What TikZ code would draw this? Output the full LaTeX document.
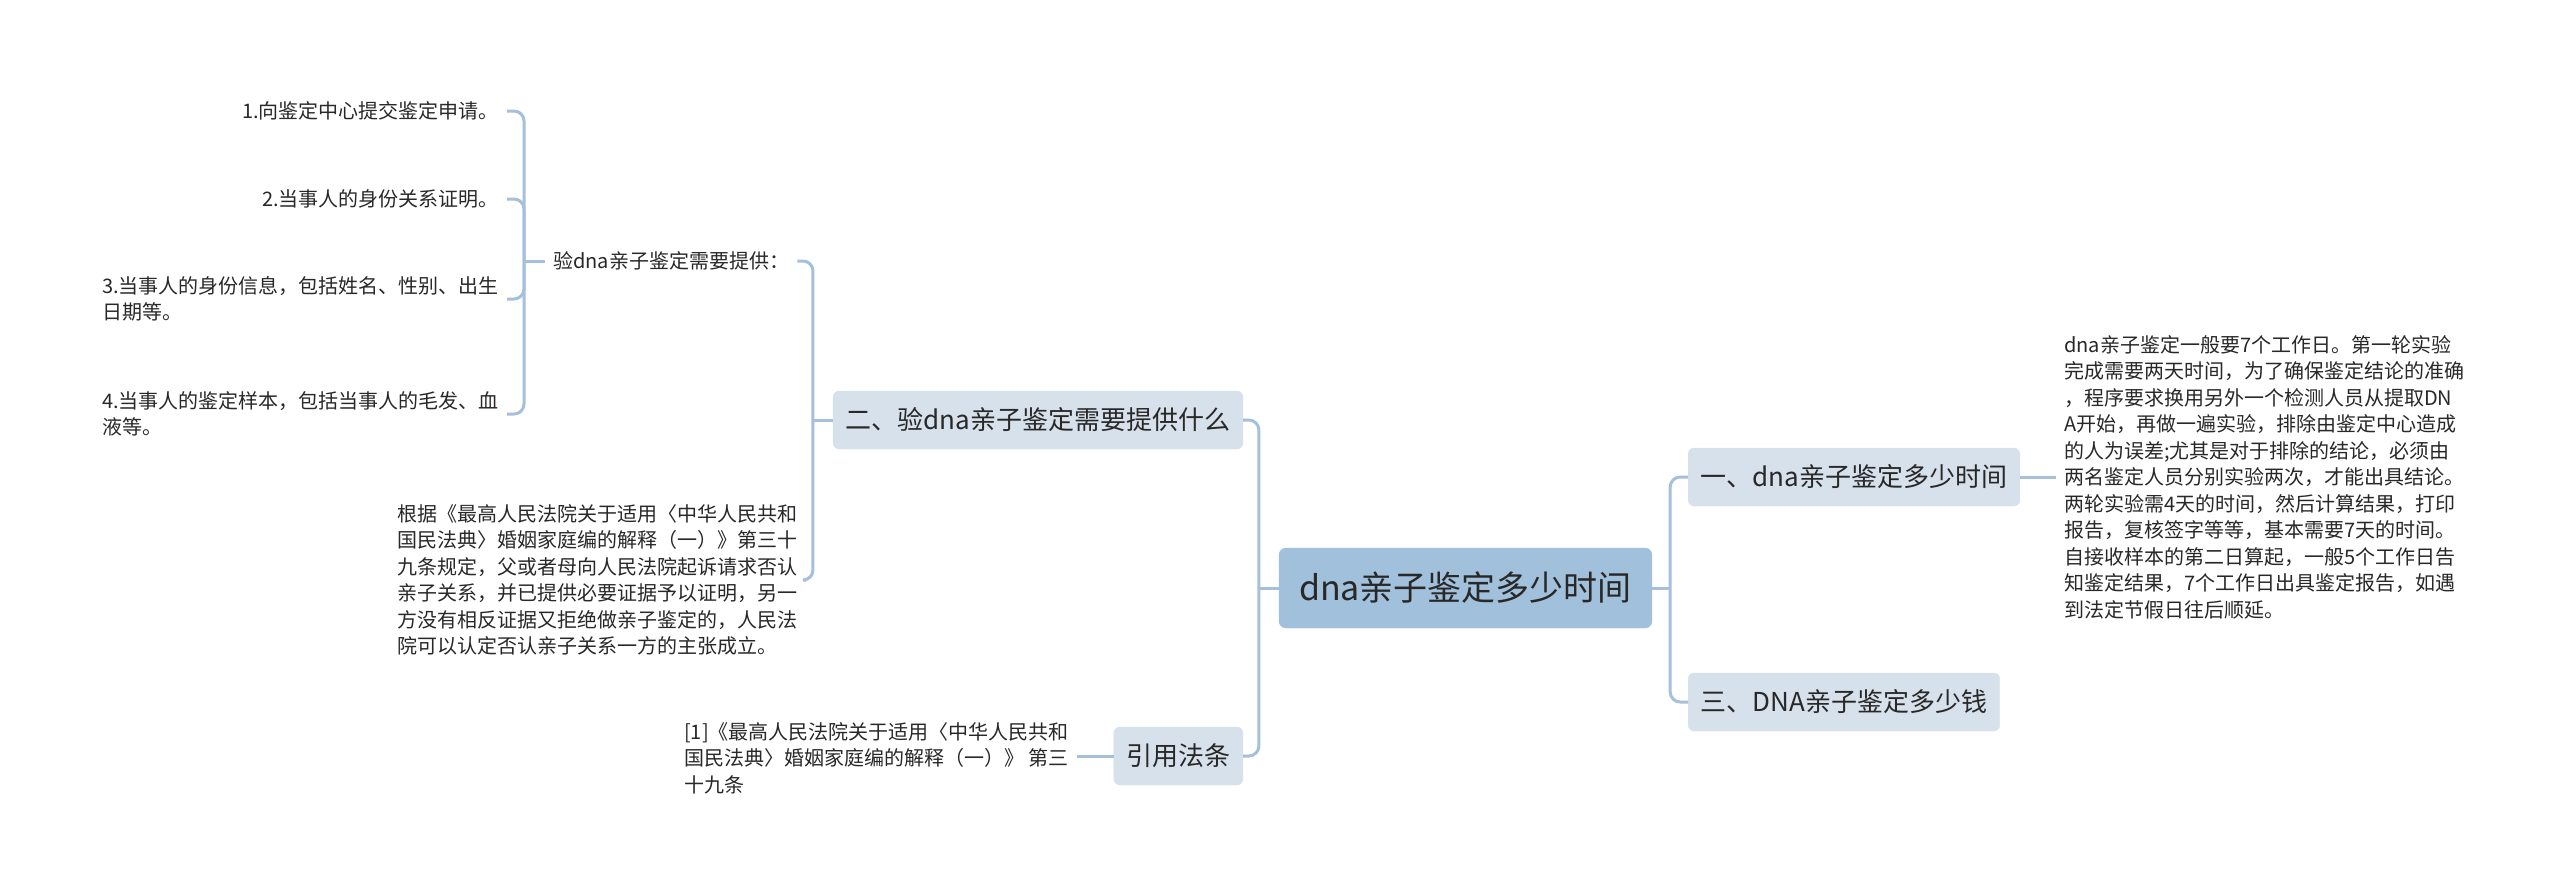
\documentclass[tikz,border=0pt]{standalone}
\usepackage{fontspec}
\newfontfamily\cjk{Noto Sans CJK SC}
\definecolor{linecol}{RGB}{166,192,219}
\definecolor{rootcol}{RGB}{161,192,219}
\definecolor{branchcol}{RGB}{214,225,235}
\definecolor{txtcol}{RGB}{40,40,40}
\tikzset{
  conn/.style={draw=linecol, line width=3pt, rounded corners=10pt},
  rootbox/.style={fill=rootcol, draw=rootcol, rounded corners=7pt, minimum height=80pt, inner xsep=20pt,
    text=txtcol, font=\cjk\fontsize{34}{40}\selectfont},
  branch/.style={fill=branchcol, draw=branchcol, rounded corners=6pt, minimum height=58pt, inner xsep=12.5pt,
    text=txtcol, font=\cjk\fontsize{26}{31}\selectfont},
  leaf/.style={inner xsep=8pt, inner ysep=2pt, align=left, text=txtcol,
    font=\cjk\fontsize{20}{26.5}\selectfont}
}
\begin{document}
\begin{tikzpicture}[x=1pt,y=-1pt]
\fill[white] (0,0) rectangle (2560,891);
\useasboundingbox (0,0) rectangle (2560,891);

\node[rootbox] (root) at (1465.5,588) {dna亲子鉴定多少时间};

\node[branch, anchor=west] (b1) at (1688,477) {一、dna亲子鉴定多少时间};
\node[branch, anchor=west] (b3) at (1688,702) {三、DNA亲子鉴定多少钱};
\node[branch, anchor=east] (b2) at (1243,420) {二、验dna亲子鉴定需要提供什么};
\node[branch, anchor=east] (b4) at (1243,756) {引用法条};

\node[leaf, anchor=west] (t1) at (2056,477) {dna亲子鉴定一般要7个工作日。第一轮实验\\完成需要两天时间，为了确保鉴定结论的准确\\，程序要求换用另外一个检测人员从提取DN\\A开始，再做一遍实验，排除由鉴定中心造成\\的人为误差;尤其是对于排除的结论，必须由\\两名鉴定人员分别实验两次，才能出具结论。\\两轮实验需4天的时间，然后计算结果，打印\\报告，复核签字等等，基本需要7天的时间。\\自接收样本的第二日算起，一般5个工作日告\\知鉴定结果，7个工作日出具鉴定报告，如遇\\到法定节假日往后顺延。};

\node[leaf, anchor=west] (lab) at (545,261) {验dna亲子鉴定需要提供：};
\node[leaf, anchor=east] (para) at (806,580) {根据《最高人民法院关于适用〈中华人民共和\\国民法典〉婚姻家庭编的解释（一）》第三十\\九条规定，父或者母向人民法院起诉请求否认\\亲子关系，并已提供必要证据予以证明，另一\\方没有相反证据又拒绝做亲子鉴定的，人民法\\院可以认定否认亲子关系一方的主张成立。};
\node[leaf, anchor=east] (ref) at (1077,758) {[1]《最高人民法院关于适用〈中华人民共和\\国民法典〉婚姻家庭编的解释（一）》 第三\\十九条};

\node[leaf, anchor=east] (i1) at (507,111) {1.向鉴定中心提交鉴定申请。};
\node[leaf, anchor=east] (i2) at (507,199) {2.当事人的身份关系证明。};
\node[leaf, anchor=east] (i3) at (507,299) {3.当事人的身份信息，包括姓名、性别、出生\\日期等。};
\node[leaf, anchor=east] (i4) at (507,414) {4.当事人的鉴定样本，包括当事人的毛发、血\\液等。};

% connectors
\draw[conn] (root.west) -- ++(-20,0) coordinate (lj);
\draw[conn] (lj) |- (b2.east);
\draw[conn] (lj) |- (b4.east);
\draw[conn] (root.east) -- ++(18,0) coordinate (rj);
\draw[conn] (rj) |- (b1.west);
\draw[conn] (rj) |- (b3.west);
\draw[conn] (b1.east) -- (t1.west);
\draw[conn] (b2.west) -- ++(-20,0) coordinate (bj);
\draw[conn] (bj) |- (lab.east);
\draw[conn] (bj) |- (para.east);
\draw[conn] (b4.west) -- (ref.east |- b4.west);
\draw[conn] (lab.west) -- ++(-21,0) coordinate (ij);
\draw[conn] (ij) |- (i1.east);
\draw[conn] (ij) |- (i2.east);
\draw[conn] (ij) |- (i3.east);
\draw[conn] (ij) |- (i4.east);
\end{tikzpicture}
\end{document}
